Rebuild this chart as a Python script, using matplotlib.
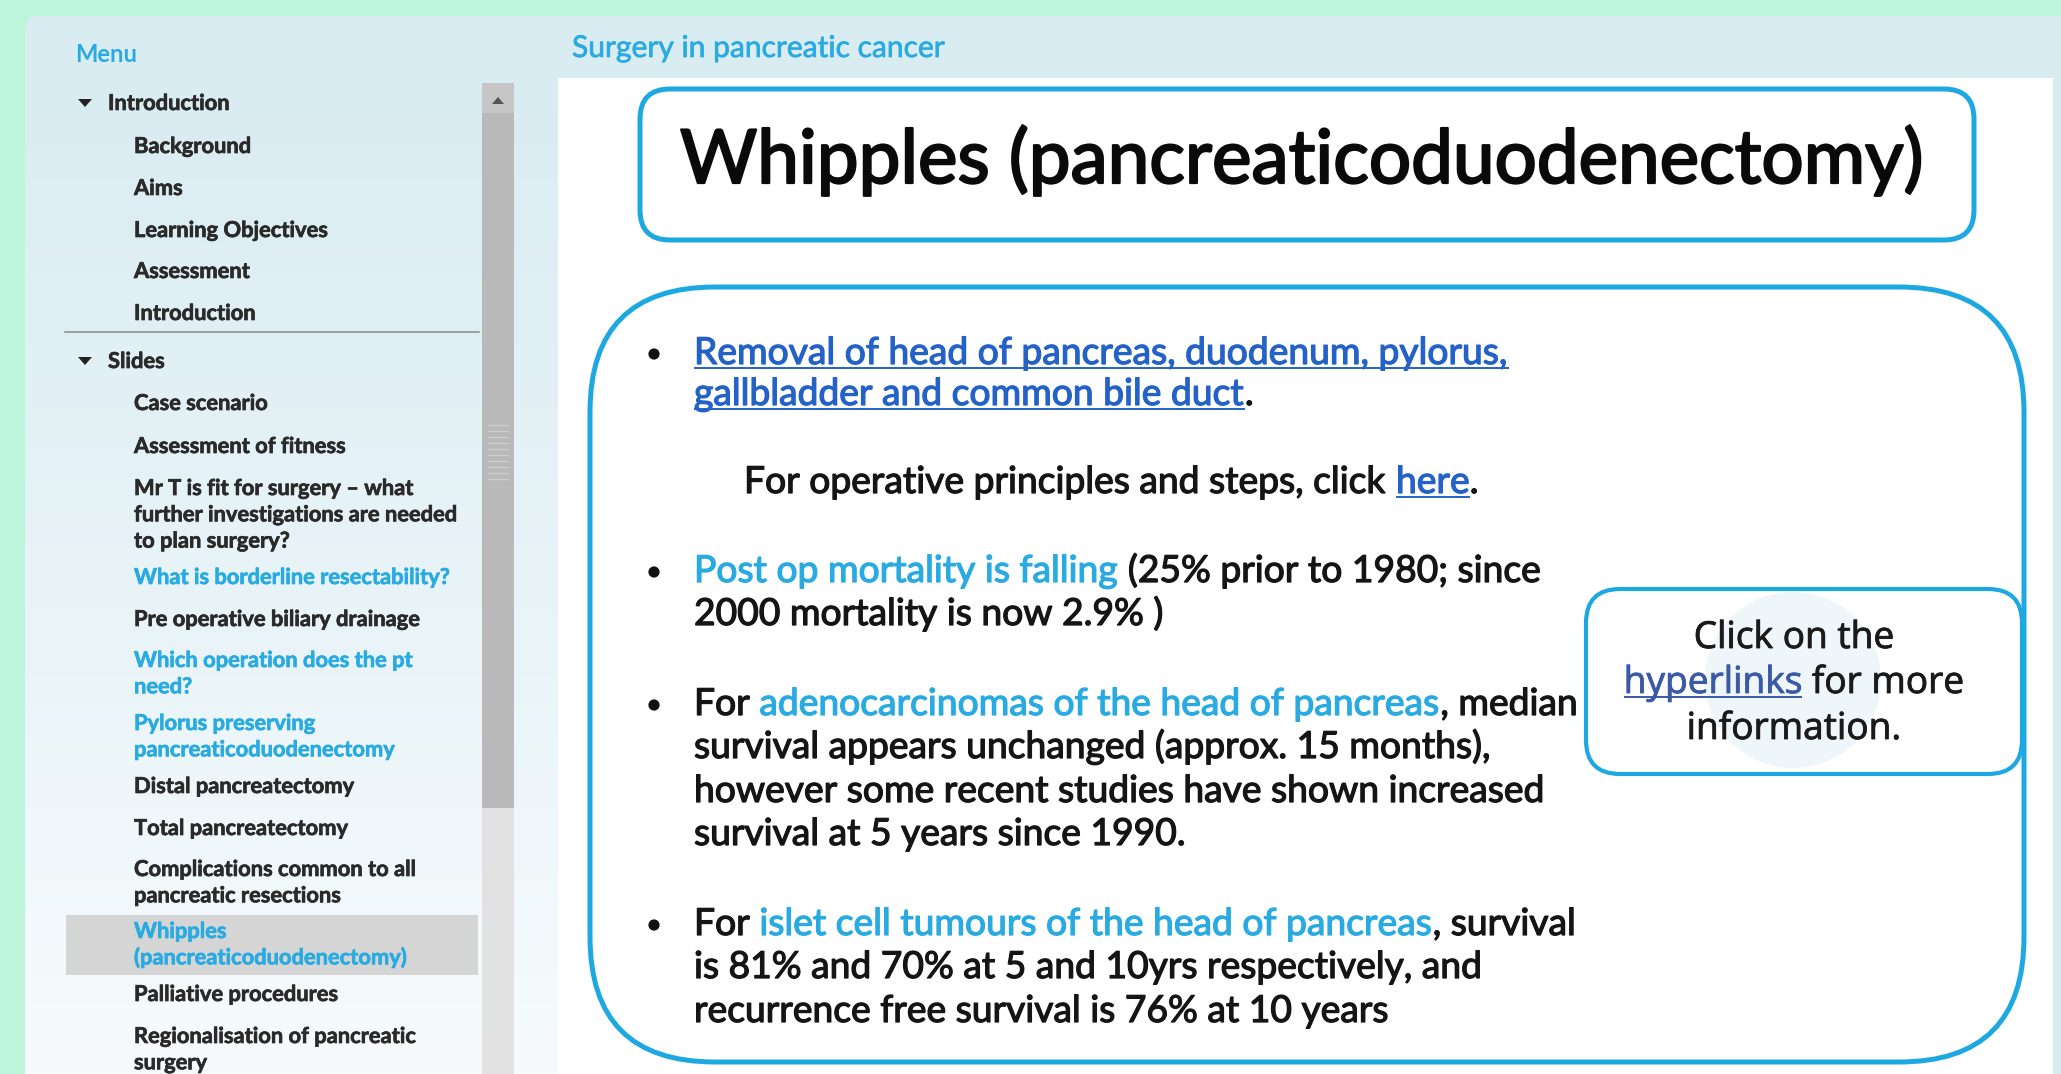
import numpy as np
import matplotlib
matplotlib.use("Agg")
import matplotlib.pyplot as plt
import matplotlib.patheffects as pe
from matplotlib.patches import FancyBboxPatch, Rectangle, Polygon, Circle
from matplotlib.colors import to_rgb

# ---------------- content ----------------
PAGE_HEADER = "Surgery in pancreatic cancer"
MENU_LABEL = "Menu"
SECTIONS = ["Introduction", "Slides"]
INTRO_ITEMS = ["Background", "Aims", "Learning Objectives", "Assessment", "Introduction"]
SLIDE_ITEMS = [
    ["Case scenario"],
    ["Assessment of fitness"],
    ["Mr T is fit for surgery \u2013 what", "further investigations are needed", "to plan surgery?"],
    ["What is borderline resectability?"],
    ["Pre operative biliary drainage"],
    ["Which operation does the pt", "need?"],
    ["Pylorus preserving", "pancreaticoduodenectomy"],
    ["Distal pancreatectomy"],
    ["Total pancreatectomy"],
    ["Complications common to all", "pancreatic resections"],
    ["Whipples", "(pancreaticoduodenectomy)"],
    ["Palliative procedures"],
    ["Regionalisation of pancreatic", "surgery"],
]
SLIDE_VISITED = [False, False, False, True, False, True, True, False, False, False, True, False, False]
SELECTED_SLIDE = 10

SLIDE_TITLE = "Whipples (pancreaticoduodenectomy)"
BULLET_1 = [[("Removal of head of pancreas, duodenum, pylorus,", "link")],
            [("gallbladder and common bile duct", "link"), (".", "plain")]]
NOTE_1 = [[("For operative principles and steps, click ", "plain"), ("here", "link"), (".", "plain")]]
BULLET_2 = [[("Post op mortality is falling", "accent"), (" (25% prior to 1980; since", "plain")],
            [("2000 mortality is now 2.9% )", "plain")]]
BULLET_3 = [[("For ", "plain"), ("adenocarcinomas of the head of pancreas", "accent"), (", median", "plain")],
            [("survival appears unchanged (approx. 15 months),", "plain")],
            [("however some recent studies have shown increased", "plain")],
            [("survival at 5 years since 1990.", "plain")]]
BULLET_4 = [[("For ", "plain"), ("islet cell tumours of the head of pancreas", "accent"), (", survival", "plain")],
            [("is 81% and 70% at 5 and 10yrs respectively, and", "plain")],
            [("recurrence free survival is 76% at 10 years", "plain")]]
CALLOUT = [[("Click on the", "plain")],
           [("hyperlinks", "link"), (" for more", "plain")],
           [("information.", "plain")]]

# ---------------- styles ----------------
MINT = "#bdf5da"
PANEL = "#d9ecf2"
BLUE = "#1ea8e2"
ACCENT = "#29abe2"
BODY_COL = {"plain": "#151515", "link": "#2462c8", "accent": "#29abe2"}
CALL_COL = {"plain": "#1a1a1a", "link": "#3b5aa6", "accent": "#29abe2"}
SIDE_DARK = "#2a2a2a"

W, H = 2061, 1074
fig = plt.figure(figsize=(W / 100, H / 100), dpi=100, facecolor=MINT)
ax = fig.add_axes([0, 0, 1, 1])
ax.set_xlim(0, W)
ax.set_ylim(H, 0)
ax.axis("off")
renderer = fig.canvas.get_renderer()


def measure(s, size, family, weight="normal"):
    t = ax.text(0, 0, s, fontsize=size, family=family, weight=weight)
    w = t.get_window_extent(renderer).width
    t.remove()
    return w


def fit_size(s, target, family, weight="normal", ref=20.0):
    return ref * target / measure(s, ref, family, weight)


def heavy(color, lw):
    return [pe.withStroke(linewidth=lw, foreground=color)]


def draw_runs(x, y, runs, size, family, colors, weight="normal", ha="left", zorder=5, stroke=0.0):
    sp = measure("n n", size, family, weight) - measure("nn", size, family, weight)
    parts = []
    for text, kind in runs:
        core = text.strip(" ")
        lead = (len(text) - len(text.lstrip(" "))) * sp
        trail = (len(text) - len(text.rstrip(" "))) * sp
        w = measure(core, size, family, weight) if core else 0
        parts.append((core, kind, lead, w, trail))
    total = sum(p[2] + p[3] + p[4] for p in parts)
    if ha == "center":
        x -= total / 2
    px = size * 100 / 72
    for core, kind, lead, w, trail in parts:
        x += lead
        t = ax.text(x, y, core, fontsize=size, family=family, weight=weight,
                    color=colors[kind], va="baseline", ha="left", zorder=zorder)
        if stroke > 0:
            t.set_path_effects(heavy(colors[kind], stroke))
        if kind == "link":
            ax.plot([x, x + w], [y + 0.11 * px] * 2, color=colors[kind], lw=1.4,
                    solid_capstyle="butt", zorder=zorder)
        x += w + trail


# ---------------- background panels ----------------
ax.add_patch(FancyBboxPatch((25, 16), W, H, boxstyle="round,pad=0,rounding_size=14",
                            fc=PANEL, ec="none", zorder=0.5))
top = np.array(to_rgb("#d9ecf2"))
bot = np.array(to_rgb("#f7fbfd"))
tt = np.linspace(0, 1, 256)[:, None, None]
grad = top * (1 - tt) + bot * tt
ax.imshow(grad, extent=[25, 558, H, 78], origin="upper", aspect="auto",
          interpolation="bilinear", zorder=1)
ax.set_xlim(0, W)
ax.set_ylim(H, 0)
ax.add_patch(Rectangle((558, 78), 2053 - 558, H - 78, fc="white", ec="none", zorder=1))

# ---------------- header texts ----------------
hs = fit_size(PAGE_HEADER, 374, "Lato")
ax.text(572, 57, PAGE_HEADER, fontsize=hs, family="Lato", color=ACCENT, va="baseline",
        zorder=5, path_effects=heavy(ACCENT, 0.5))
ms = fit_size(MENU_LABEL, 62, "Lato", "bold")
ax.text(75, 62, MENU_LABEL, fontsize=ms, family="Lato", weight="bold", color=ACCENT,
        va="baseline", zorder=5)

# ---------------- sidebar ----------------
ss = fit_size("Learning Objectives", 194, "Lato", "bold")
side_fx = 0.5


def tri(cx, cy):
    ax.add_patch(Polygon([(cx - 7, cy - 4), (cx + 7, cy - 4), (cx, cy + 4)],
                         closed=True, fc="#222222", ec="none", zorder=5))


def side_text(x, y, s, col):
    ax.text(x, y, s, fontsize=ss, family="Lato", weight="bold", color=col,
            va="baseline", zorder=5, path_effects=heavy(col, side_fx))


tri(85, 103)
side_text(108, 110, SECTIONS[0], SIDE_DARK)
intro_base = [153, 195, 237, 278, 320]
for lab, yb in zip(INTRO_ITEMS, intro_base):
    side_text(134, yb, lab, SIDE_DARK)
ax.plot([65, 479], [332, 332], color="#9a9a9a", lw=1.3, zorder=4)
tri(85, 361)
side_text(108, 368, SECTIONS[1], SIDE_DARK)

ax.add_patch(Rectangle((66, 915), 478 - 66, 60, fc="#d5d5d5", ec="none", zorder=2))
slide_base = [410, 453, 495, 584, 626, 667, 730, 793, 835, 876, 938, 1001, 1043]
for lines, visited, yb in zip(SLIDE_ITEMS, SLIDE_VISITED, slide_base):
    col = ACCENT if visited else SIDE_DARK
    for k, ln in enumerate(lines):
        side_text(134, yb + k * 26.3, ln, col)

# scrollbar
ax.add_patch(Rectangle((482, 83), 32, H - 83, fc="#e2e2e2", ec="none", zorder=2))
ax.add_patch(Rectangle((482, 113), 32, 808 - 113, fc="#b9b9b9", ec="none", zorder=2))
ax.add_patch(Rectangle((482, 83), 32, 30, fc="#c6c6c6", ec="none", zorder=2))
ax.add_patch(Polygon([(492, 104), (504, 104), (498, 97)], closed=True, fc="#555555",
                     ec="none", zorder=3))
for gy in np.arange(425, 480, 6):
    ax.plot([488, 508], [gy, gy], color="#cdcdcd", lw=1, zorder=3)

# ---------------- slide content ----------------
ax.add_patch(FancyBboxPatch((640, 89), 1334, 151, boxstyle="round,pad=0,rounding_size=30",
                            fc="white", ec=BLUE, lw=3.6, zorder=3))
ts = fit_size(SLIDE_TITLE, 1246, "Lato")
ax.text(680, 183, SLIDE_TITLE, fontsize=ts, family="Lato", color="#0a0a0a",
        va="baseline", zorder=5, path_effects=heavy("#0a0a0a", 1.6))

ax.add_patch(FancyBboxPatch((590, 287), 1434, 775, boxstyle="round,pad=0,rounding_size=125",
                            fc="white", ec=BLUE, lw=3.6, zorder=3))

bs = fit_size("Removal of head of pancreas, duodenum, pylorus,", 815, "Lato")
blocks = [
    (BULLET_1, [364, 405], True, 694),
    (NOTE_1, [493], False, 744),
    (BULLET_2, [582, 625], True, 694),
    (BULLET_3, [715, 758, 802, 845], True, 694),
    (BULLET_4, [935, 978, 1022], True, 694),
]
for lines, bases, bullet, x0 in blocks:
    if bullet:
        ax.add_patch(Circle((654, bases[0] - 10), 5.6, fc="#111111", ec="none", zorder=5))
    for runs, yb in zip(lines, bases):
        draw_runs(x0, yb, runs, bs, "Lato", BODY_COL, stroke=0.9)

# callout box
ax.add_patch(FancyBboxPatch((1586, 589), 2022 - 1586, 185, boxstyle="round,pad=0,rounding_size=34",
                            fc="white", ec=BLUE, lw=3.0, zorder=4))
ax.add_patch(Circle((1793, 680), 88, fc="#eef6fa", ec="none", zorder=4.5))
cs = fit_size("hyperlinks for more", 340, "Open Sans")
for runs, yb in zip(CALLOUT, [648, 693, 739]):
    draw_runs(1794, yb, runs, cs, "Open Sans", CALL_COL, ha="center", stroke=0.6)

fig.savefig("out.png", dpi=100, facecolor=MINT)
